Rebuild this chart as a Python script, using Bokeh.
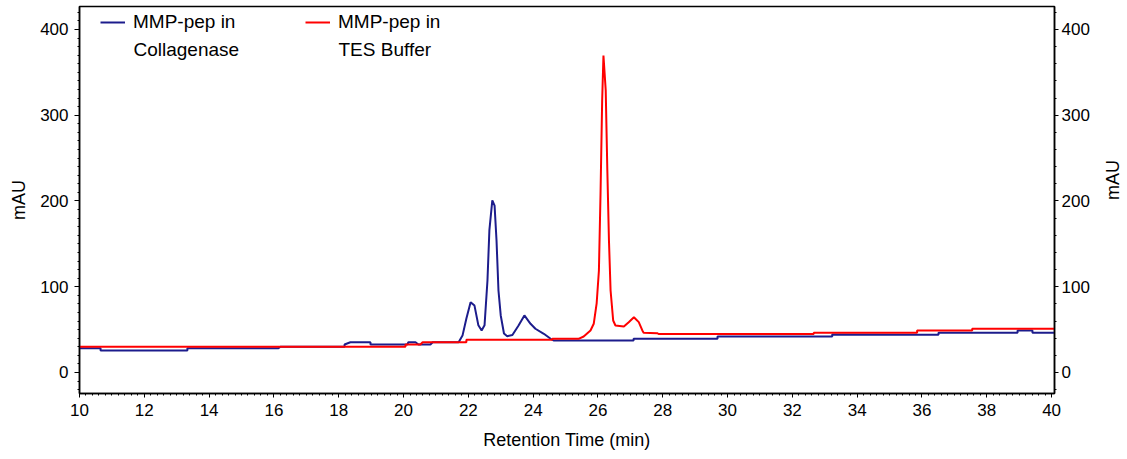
import math
from bokeh.plotting import figure
from bokeh.models import (LinearAxis, Range1d, Legend, LegendItem, Label,
                          SingleIntervalTicker)
from bokeh.embed import file_html
from bokeh.resources import INLINE

# ---- data (retention time in min, absorbance in mAU) ----
coll_time = [10.0, 10.65, 10.65, 13.33, 13.33, 16.14, 16.2, 18.18, 18.18, 18.36, 18.98, 18.98,
             20.12, 20.15, 20.37, 20.46, 20.83, 20.9, 21.70, 21.82, 21.94, 22.07, 22.19, 22.31,
             22.41, 22.50, 22.59, 22.65, 22.74, 22.81, 22.87, 22.93, 23.00, 23.10, 23.20, 23.36,
             23.55, 23.73, 23.92, 24.07, 24.33, 24.54, 24.63, 25.21, 27.10, 27.10, 29.69, 29.69,
             33.23, 33.23, 35.49, 36.51, 36.51, 38.95, 38.95, 39.41, 39.41, 40.09]
coll_mau = [28.3, 28.3, 25.7, 25.7, 28.3, 28.3, 30.0, 30.0, 32.7, 35.3, 35.3, 32.7,
            32.7, 35.3, 35.3, 32.7, 32.7, 35.3, 35.3, 43.0, 63.0, 82.0, 78.0, 55.0,
            49.0, 55.0, 107.0, 166.0, 200.6, 194.6, 154.0, 95.6, 66.5, 45.5, 42.3, 43.7,
            54.8, 66.5, 56.8, 51.0, 45.1, 39.3, 37.3, 37.3, 37.3, 39.3, 39.3, 42.0,
            42.0, 44.3, 44.0, 44.0, 46.3, 46.3, 49.0, 49.0, 46.3, 46.3]

tes_time = [10.0, 20.06, 20.06, 20.52, 20.59, 21.94, 21.94, 24.59, 24.59, 25.40, 25.56, 25.77,
            25.87, 25.96, 26.03, 26.08, 26.13, 26.17, 26.24, 26.29, 26.34, 26.39, 26.47, 26.54,
            26.80, 26.95, 27.11, 27.26, 27.37, 27.41, 27.83, 27.87, 32.66, 32.66, 35.85, 35.85,
            37.55, 37.55, 40.09]
tes_mau = [30.0, 30.0, 32.7, 32.7, 35.3, 35.3, 38.1, 38.1, 39.3, 39.3, 42.0, 49.0,
           56.8, 80.5, 119.0, 208.7, 317.0, 369.7, 329.0, 235.6, 154.0, 95.6, 60.6, 54.8,
           53.6, 58.7, 64.5, 58.7, 49.0, 46.3, 45.8, 44.9, 44.9, 46.3, 46.3, 49.0,
           49.0, 51.0, 51.0]

x_label = "Retention Time (min)"
y_label = "mAU"
legend_first = ["MMP-pep in", "MMP-pep in"]
legend_second = ["Collagenase", "TES Buffer"]

FONT = "Liberation Sans"
TICK_FS = "17px"
LAB_FS = "18px"
LEG_FS = "19px"

p = figure(frame_width=975, frame_height=387, output_backend="svg", toolbar_location=None,
           x_range=Range1d(10, 40.09), y_range=Range1d(-24.5, 426.8),
           min_border_left=79, min_border_right=70, min_border_top=6, min_border_bottom=64,
           x_axis_label=x_label, y_axis_label=y_label)
p.extra_y_ranges = {"right": Range1d(-24.5, 426.8)}
p.grid.visible = False
p.outline_line_color = "black"
p.outline_line_width = 1.5
p.background_fill_color = "white"
p.border_fill_color = "white"

blue = p.line(coll_time, coll_mau, line_color="#1c1c8c", line_width=2)
red = p.line(tes_time, tes_mau, line_color="#ff0000", line_width=2, y_range_name="right")

raxis = LinearAxis(y_range_name="right", axis_label=y_label)
p.add_layout(raxis, "right")

xa = p.xaxis[0]
xa.ticker = SingleIntervalTicker(interval=2, num_minor_ticks=10)
ya = p.yaxis[0]
ya.ticker = SingleIntervalTicker(interval=100, num_minor_ticks=10)
raxis.ticker = SingleIntervalTicker(interval=100, num_minor_ticks=5)

for ax in (xa, ya, raxis):
    ax.axis_line_color = "black"
    ax.axis_line_width = 1.5
    ax.major_tick_line_color = "black"
    ax.minor_tick_line_color = "black"
    ax.major_tick_in = 0
    ax.minor_tick_in = 0
    ax.major_tick_out = 4
    ax.minor_tick_out = 2
    ax.major_label_text_font = FONT
    ax.major_label_text_font_size = TICK_FS
    ax.major_label_text_color = "black"
    ax.axis_label_text_font = FONT
    ax.axis_label_text_font_size = LAB_FS
    ax.axis_label_text_font_style = "normal"
    ax.axis_label_text_color = "black"

ya.major_tick_out = 5
ya.major_label_standoff = 6
ya.axis_label_standoff = 8
xa.major_label_standoff = 6
xa.axis_label_standoff = 11
raxis.major_label_standoff = 3
raxis.axis_label_standoff = 20
raxis.axis_label_orientation = math.pi / 2

legend = Legend(items=[LegendItem(label=legend_first[0], renderers=[blue]),
                       LegendItem(label=legend_first[1], renderers=[red])],
                orientation="horizontal", location=(21, 360), padding=0, margin=0,
                spacing=0, label_width=172, glyph_width=25, label_standoff=8,
                border_line_alpha=0, background_fill_alpha=0,
                label_text_font=FONT, label_text_font_size=LEG_FS,
                label_text_color="black")
p.add_layout(legend)

for xs, txt in zip((54, 259), legend_second):
    p.add_layout(Label(x=xs, y=344, x_units="screen", y_units="screen", text=txt,
                       text_baseline="middle", text_font=FONT, text_font_size=LEG_FS,
                       text_color="black"))

open("out.html", "w").write(file_html(p, INLINE))
